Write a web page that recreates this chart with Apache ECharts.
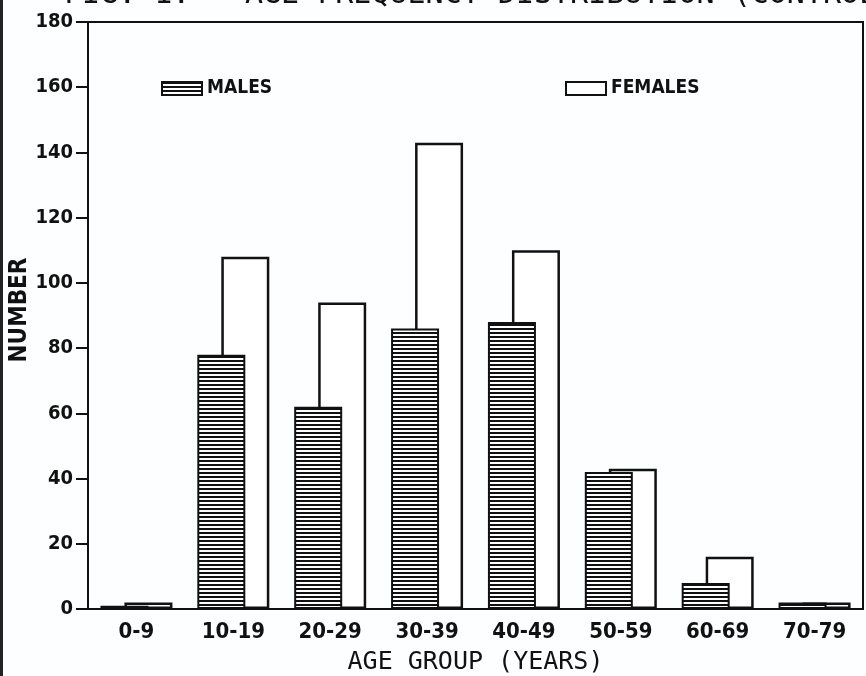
<!DOCTYPE html>
<html>
<head>
<meta charset="utf-8">
<script src="https://cdn.jsdelivr.net/npm/echarts@6/dist/echarts.min.js"></script>
<style>html,body{margin:0;padding:0;background:#fff;}#c{width:866px;height:676px;}</style>
</head>
<body>
<div id="c"></div>
<script>
const categories = ['0-9', '10-19', '20-29', '30-39', '40-49', '50-59', '60-69', '70-79'];
const males = [1, 78, 62, 86, 88, 42, 8, 2];
const females = [2, 108, 94, 143, 110, 43, 16, 2];
const yTicks = { min: 0, max: 180, interval: 20 };

const NARROW = "'DejaVu Sans Condensed', 'Liberation Sans', sans-serif";
const MONO = "'DejaVu Sans Mono', 'Liberation Mono', monospace";

function stripes() {
  const c = document.createElement('canvas');
  c.width = 8; c.height = 4;
  const g = c.getContext('2d');
  g.fillStyle = '#fff'; g.fillRect(0, 0, 8, 4);
  g.fillStyle = '#111'; g.fillRect(0, 0, 8, 2);
  return c;
}

const chart = echarts.init(document.getElementById('c'), null, { renderer: 'canvas' });
chart.setOption({
  backgroundColor: '#fdfeff',
  animation: false,
  grid: { left: 88, right: 3, top: 22, bottom: 67, show: true, borderColor: '#111', borderWidth: 2,
    backgroundColor: 'transparent', containLabel: false, outerBoundsMode: 'none' },
  legend: [
    { data: ['MALES'], left: 156, top: 74, itemWidth: 40, itemHeight: 13, icon: 'rect',
      textStyle: { fontFamily: NARROW, fontWeight: 'bold', fontSize: 19, color: '#111' } },
    { data: ['FEMALES'], left: 560, top: 74, itemWidth: 40, itemHeight: 13, icon: 'rect',
      textStyle: { fontFamily: NARROW, fontWeight: 'bold', fontSize: 19, color: '#111' } }
  ],
  xAxis: {
    type: 'category', data: categories,
    axisLine: { lineStyle: { color: '#111', width: 2 } },
    axisTick: { show: false },
    axisLabel: { margin: 12, fontFamily: NARROW, fontWeight: 'bold', fontSize: 22, color: '#111' },
    name: 'AGE GROUP (YEARS)', nameLocation: 'middle', nameGap: 41,
    nameTextStyle: { fontFamily: MONO, fontSize: 25, color: '#111' }
  },
  yAxis: {
    type: 'value', min: yTicks.min, max: yTicks.max, interval: yTicks.interval,
    axisLine: { show: true, lineStyle: { color: '#111', width: 2 } },
    axisTick: { show: true, length: 12, lineStyle: { color: '#111', width: 2 } },
    splitLine: { show: false },
    axisLabel: { margin: 15, fontFamily: NARROW, fontWeight: 'bold', fontSize: 20, color: '#111' }
  },
  graphic: [
    { type: 'rect', shape: { x: 0, y: 0, width: 3, height: 676 }, style: { fill: '#222' } },
    { type: 'text', x: 20, y: 310, rotation: Math.PI / 2,
      style: { text: 'NUMBER', align: 'center', verticalAlign: 'middle', fill: '#111',
        font: "bold 24px 'DejaVu Sans Condensed'" } },
    { type: 'text', left: 64, top: -20, style: { text: 'FIG. 1.', font: "30px 'DejaVu Sans Mono'", fill: '#111' } },
    { type: 'text', left: 245, top: -20, style: { text: 'AGE FREQUENCY DISTRIBUTION (CONTROLS)', font: "30px 'DejaVu Sans Mono'", fill: '#111' } }
  ],
  series: [
    { name: 'MALES', type: 'bar', data: males, barWidth: 48, barGap: '-50%', z: 3,
      itemStyle: { color: { image: stripes(), repeat: 'repeat' }, borderColor: '#111', borderWidth: 2 } },
    { name: 'FEMALES', type: 'bar', data: females, barWidth: 48, z: 2,
      itemStyle: { color: '#fff', borderColor: '#111', borderWidth: 2.5 } }
  ]
});
</script>
</body>
</html>
